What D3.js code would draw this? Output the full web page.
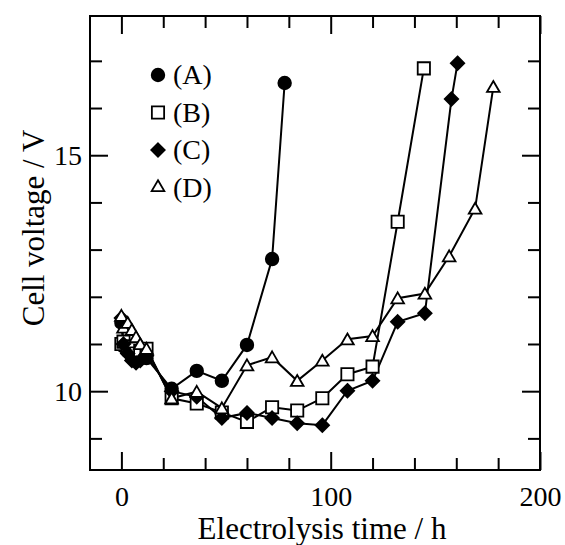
<!DOCTYPE html>
<html>
<head>
<meta charset="utf-8">
<script src="https://cdn.jsdelivr.net/npm/d3@7"></script>
<style>
  body { margin: 0; background: #fff; }
  svg text { font-family: "Liberation Serif", "Times New Roman", serif; fill: #000; }
</style>
</head>
<body>
<div id="chart"></div>
<script>
// series data: electrolysis time (h) and cell voltage (V)
var timesA = [0, 1, 3, 5, 7, 9, 12, 24, 36, 48, 60, 72, 78];
var voltA  = [11.45, 10.95, 10.85, 10.75, 10.65, 10.7, 10.7, 10.05, 10.43, 10.22, 10.98, 12.8, 16.53];

var timesB = [0, 1, 3, 5, 7, 9, 12, 24, 36, 48, 60, 72, 84, 96, 108, 120, 132, 144.5];
var voltB  = [11.0, 11.05, 10.95, 10.9, 10.8, 10.85, 10.9, 9.85, 9.74, 9.55, 9.35, 9.66, 9.59, 9.85, 10.36, 10.52, 13.59, 16.84];

var timesC = [0, 1, 3, 5, 7, 9, 12, 24, 36, 48, 60, 72, 84, 96, 108, 120, 132, 145, 157.7, 160.6];
var voltC  = [11.55, 11.0, 10.8, 10.65, 10.6, 10.65, 10.75, 10.0, 9.88, 9.43, 9.54, 9.43, 9.32, 9.28, 10.01, 10.22, 11.47, 11.65, 16.19, 16.95];

var timesD = [0, 1, 3, 5, 7, 9, 12, 24, 36, 48, 60, 72, 84, 96, 108, 120, 132, 145, 156.6, 169, 177.7];
var voltD  = [11.6, 11.35, 11.45, 11.3, 11.15, 11.0, 10.9, 9.85, 9.99, 9.64, 10.55, 10.72, 10.22, 10.65, 11.1, 11.17, 11.97, 12.07, 12.86, 13.87, 16.45];

var seriesNames = ['(A)', '(B)', '(C)', '(D)'];
var xMajorTicks = [0, 100, 200];
var xMinorTicks = [20, 40, 60, 80, 120, 140, 160, 180];
var yMajorTicks = [10, 15];
var yMinorTicks = [9, 11, 12, 13, 14, 16, 17];

var width = 565, height = 545;
var plotLeft = 90, plotRight = 540, plotTop = 16, plotBottom = 470;

var svg = d3.select('#chart')
  .append('svg')
  .attr('width', width)
  .attr('height', height);

var x = d3.scaleLinear().domain([-15, 200]).range([plotLeft, plotRight]);
var y = d3.scaleLinear().domain([8.33, 17.95]).range([plotBottom, plotTop]);

// ticks (inward on all four sides)
function tickAxis(axisFn, scale, values, len, transform) {
  var g = svg.append('g')
    .attr('transform', transform)
    .call(axisFn(scale).tickValues(values).tickSize(-len).tickFormat(''));
  g.select('.domain').remove();
  g.selectAll('line').attr('stroke', '#000').attr('stroke-width', 2);
  return g;
}
tickAxis(d3.axisBottom, x, xMinorTicks, 12, 'translate(0,' + plotBottom + ')');
tickAxis(d3.axisBottom, x, xMajorTicks, 18, 'translate(0,' + plotBottom + ')');
tickAxis(d3.axisTop, x, xMinorTicks, 12, 'translate(0,' + plotTop + ')');
tickAxis(d3.axisTop, x, xMajorTicks, 18, 'translate(0,' + plotTop + ')');
tickAxis(d3.axisLeft, y, yMinorTicks, 12, 'translate(' + plotLeft + ',0)');
tickAxis(d3.axisLeft, y, yMajorTicks, 18, 'translate(' + plotLeft + ',0)');
tickAxis(d3.axisRight, y, yMinorTicks, 12, 'translate(' + plotRight + ',0)');
tickAxis(d3.axisRight, y, yMajorTicks, 18, 'translate(' + plotRight + ',0)');

// tick labels
var xLab = svg.append('g')
  .attr('transform', 'translate(0,' + plotBottom + ')')
  .call(d3.axisBottom(x).tickValues(xMajorTicks).tickSize(0).tickPadding(16).tickFormat(d3.format('d')));
xLab.select('.domain').remove();
xLab.selectAll('text').style('font-size', '28px').style('font-family', '"Liberation Serif", serif');

var yLab = svg.append('g')
  .attr('transform', 'translate(' + plotLeft + ',0)')
  .call(d3.axisLeft(y).tickValues(yMajorTicks).tickSize(0).tickPadding(8).tickFormat(d3.format('d')));
yLab.select('.domain').remove();
yLab.selectAll('text').style('font-size', '28px').style('font-family', '"Liberation Serif", serif');

// frame
svg.append('rect')
  .attr('x', plotLeft).attr('y', plotTop)
  .attr('width', plotRight - plotLeft).attr('height', plotBottom - plotTop)
  .attr('fill', 'none').attr('stroke', '#000').attr('stroke-width', 2);

// axis titles
svg.append('text')
  .attr('x', 322)
  .attr('y', 539)
  .attr('text-anchor', 'middle')
  .style('font-size', '31px')
  .text('Electrolysis time / h');

svg.append('text')
  .attr('transform', 'translate(44,228) rotate(-90)')
  .attr('text-anchor', 'middle')
  .style('font-size', '31px')
  .text('Cell voltage / V');

// marker drawing
var symCircle = d3.symbol().type(d3.symbolCircle).size(125);
var symSquare = d3.symbol().type(d3.symbolSquare).size(150);
var symDiamond = d3.symbol().type(d3.symbolDiamond2).size(115);
var symTriangle = d3.symbol().type(d3.symbolTriangle2).size(115);

var series = [
  { t: timesA, v: voltA, sym: symCircle, fill: '#000' },
  { t: timesB, v: voltB, sym: symSquare, fill: '#fff' },
  { t: timesC, v: voltC, sym: symDiamond, fill: '#000' },
  { t: timesD, v: voltD, sym: symTriangle, fill: '#fff' }
];

var line = d3.line()
  .x(function(d) { return x(d[0]); })
  .y(function(d) { return y(d[1]); });

series.forEach(function(s) {
  var pts = s.t.map(function(t, i) { return [t, s.v[i]]; });
  svg.append('path')
    .datum(pts)
    .attr('d', line)
    .attr('fill', 'none')
    .attr('stroke', '#000')
    .attr('stroke-width', 2);
});

series.forEach(function(s) {
  var pts = s.t.map(function(t, i) { return [t, s.v[i]]; });
  svg.append('g').selectAll('path')
    .data(pts)
    .enter()
    .append('path')
    .attr('d', s.sym)
    .attr('transform', function(d) {
      var dy = s.sym === symTriangle ? 1.5 : 0;
      return 'translate(' + x(d[0]) + ',' + (y(d[1]) + dy) + ')';
    })
    .attr('fill', s.fill)
    .attr('stroke', '#000')
    .attr('stroke-width', 1.8);
});

// legend
var legend = svg.append('g');
series.forEach(function(s, i) {
  var ly = 75 + i * 37.5;
  legend.append('path')
    .attr('d', s.sym)
    .attr('transform', 'translate(158,' + ly + ')')
    .attr('fill', s.fill)
    .attr('stroke', '#000')
    .attr('stroke-width', 1.8);
  legend.append('text')
    .attr('x', 173)
    .attr('y', ly + 9)
    .style('font-size', '28px')
    .text(seriesNames[i]);
});
</script>
</body>
</html>
